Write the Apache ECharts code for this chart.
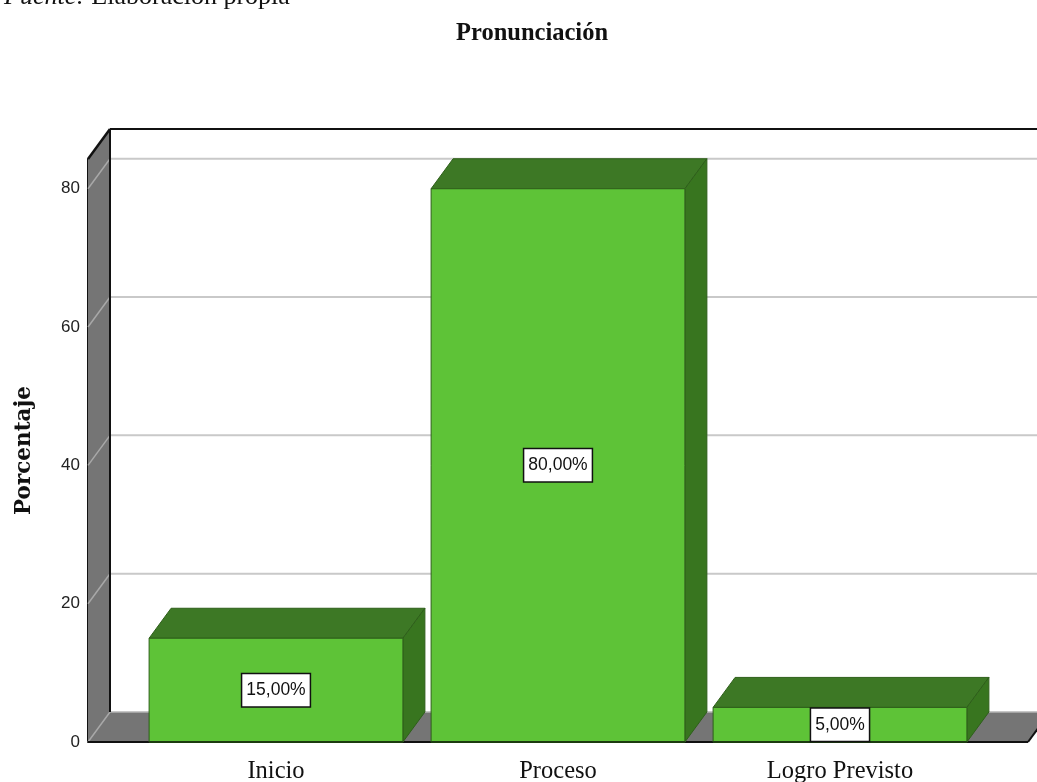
<!DOCTYPE html>
<html><head><meta charset="utf-8">
<style>html,body{margin:0;padding:0;background:#fff}#c{width:1037px;height:782px}</style>
<script src="https://cdn.jsdelivr.net/npm/echarts@6/dist/echarts.min.js"></script>
</head><body><div id="c"></div>
<script>
const categories = ['Inicio', 'Proceso', 'Logro Previsto'];
const percentValues = [15, 80, 5];
const gridValues = [20, 40, 60, 80];
const DX = 22, DY = -30, AXIS_OFFSET = 47;
const WALL = '#757575', FRONT = '#5EC337', TOP = '#3D7825', SIDE = '#38751F', EDGE = '#2E5F1A';

const chart = echarts.init(document.getElementById('c'), null, {renderer: 'canvas'});

function poly(points, fill, stroke, w) {
  return {type: 'polygon', shape: {points}, style: {fill, stroke: stroke || null, lineWidth: w || 0}};
}
function line(x1, y1, x2, y2, stroke, w) {
  return {type: 'line', shape: {x1, y1, x2, y2}, style: {stroke, lineWidth: w}};
}

function renderFrame(params, api) {
  const cs = params.coordSys;
  const L = cs.x - AXIS_OFFSET, R = cs.x + cs.width + AXIS_OFFSET;
  const T = cs.y, B = cs.y + cs.height;
  const children = [
    poly([[L, T], [L + DX, T + DY], [L + DX, B + DY], [L, B]], WALL),
    poly([[L, B], [L + DX, B + DY], [R + DX, B + DY], [R, B]], WALL),
    line(L + DX, B + DY, R + DX, B + DY, '#b5b5b5', 1.5)
  ];
  gridValues.forEach(v => {
    const y = api.coord([0, v])[1];
    children.push(line(L + DX, y + DY, R + DX, y + DY, '#c9c9c9', 2));
    children.push(line(L, y, L + DX, y + DY, '#a8a8a8', 1.5));
  });
  children.push(line(L, B, L + DX, B + DY, '#a8a8a8', 1.5));
  children.push(line(L, T, L + DX, T + DY, '#111', 2.5));
  children.push(line(L + DX, T + DY, L + DX, B + DY, '#111', 2));
  children.push(line(L + DX, T + DY, R + DX, T + DY, '#111', 2));
  children.push(line(L, B, R, B, '#111', 2));
  children.push(line(R, B, R + DX, B + DY, '#111', 2));
  return {type: 'group', children};
}

function renderBar(params, api) {
  const i = api.value(0), v = api.value(1);
  const c0 = api.coord([i, 0]), c1 = api.coord([i, v]);
  const w = api.size([1, 0])[0] * 0.9;
  const x0 = c0[0] - w / 2, x1 = c0[0] + w / 2, yB = c0[1], yT = c1[1];
  return {type: 'group', children: [
    poly([[x0, yT], [x0 + DX, yT + DY], [x1 + DX, yT + DY], [x1, yT]], TOP, EDGE, 1),
    poly([[x1, yT], [x1 + DX, yT + DY], [x1 + DX, yB + DY], [x1, yB]], SIDE, EDGE, 1),
    {type: 'rect', shape: {x: x0, y: yT, width: w, height: yB - yT},
      style: {fill: FRONT, stroke: EDGE, lineWidth: 1}},
    line(x0, yB, x1, yB, '#1c3a10', 2)
  ]};
}

function renderLabel(params, api) {
  const i = api.value(0), v = api.value(1);
  const c = api.coord([i, v / 2]);
  return {type: 'text', x: c[0], y: c[1], style: {
    text: v.toFixed(2).replace('.', ',') + '%',
    x: 0, y: 0, align: 'center', verticalAlign: 'middle',
    font: '17.5px "Liberation Sans"', fill: '#111',
    backgroundColor: '#fff', borderColor: '#111', borderWidth: 1.5, padding: [7, 4, 7, 4]
  }};
}

const barData = percentValues.map((v, i) => [i, v]);

chart.setOption({
  animation: false,
  backgroundColor: '#fff',
  title: {
    text: 'Pronunciación', left: 527, top: 16, textAlign: 'center',
    textStyle: {fontFamily: 'Liberation Serif', fontWeight: 'bold', fontSize: 24.5, color: '#111'}
  },
  graphic: [{
    type: 'text', left: 4, top: -16,
    style: {
      text: '{i|Fuente:} Elaboración propia',
      font: '26px "Liberation Serif"', fill: '#111',
      rich: {i: {font: 'italic 26px "Liberation Serif"', fill: '#111'}}
    }
  }],
  grid: {left: 135, right: 56, top: 159, bottom: 40, outerBoundsMode: 'none'},
  xAxis: {
    type: 'category', data: categories,
    axisLine: {show: false}, axisTick: {show: false},
    axisLabel: {margin: 17, fontFamily: 'Liberation Serif', fontSize: 24.5, color: '#111'}
  },
  yAxis: {
    type: 'value', min: 0, max: 84.3, interval: 20, offset: AXIS_OFFSET,
    name: 'Porcentaje', nameLocation: 'middle', nameGap: 53, nameRotate: 90,
    nameTextStyle: {fontFamily: 'DejaVu Serif', fontWeight: 'bold', fontSize: 21.5, color: '#111'},
    axisLine: {show: true, lineStyle: {color: '#111', width: 2}},
    axisTick: {show: false}, splitLine: {show: false},
    axisLabel: {showMaxLabel: false, margin: 8, fontFamily: 'Liberation Sans', fontSize: 17, color: '#222'}
  },
  series: [
    {type: 'custom', coordinateSystem: 'cartesian2d', data: [[0, 0]], renderItem: renderFrame, silent: true, z: 1, clip: false},
    {type: 'custom', coordinateSystem: 'cartesian2d', data: barData, renderItem: renderBar, silent: true, z: 2, clip: false},
    {type: 'custom', coordinateSystem: 'cartesian2d', data: barData, renderItem: renderLabel, silent: true, z: 3, clip: false}
  ]
});
</script></body></html>
